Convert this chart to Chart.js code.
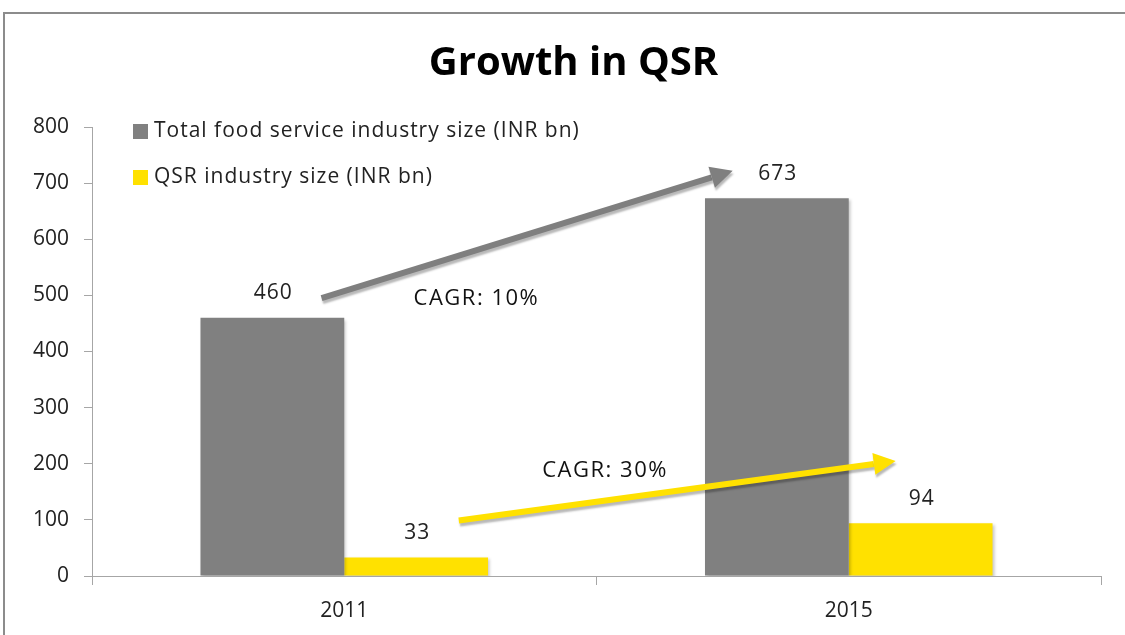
<!DOCTYPE html>
<html>
<head>
<meta charset="utf-8">
<script src="https://cdn.jsdelivr.net/npm/chart.js@4.4.1/dist/chart.umd.min.js"></script>
<style>
  html, body { margin: 0; padding: 0; background: #fff; }
  #wrap { position: relative; width: 1125px; height: 635px; overflow: hidden; }
  #frame { position: absolute; left: 3px; top: 12px; width: 1200px; height: 700px; border: 2px solid #8c8c8c; box-sizing: border-box; }
  #qsrChart { position: absolute; left: 0; top: 0; }
</style>
</head>
<body>
<div id="wrap">
  <div id="frame"></div>
  <canvas id="qsrChart" width="1125" height="635"></canvas>
</div>
<script>
var chartTitle = "Growth in QSR";
var years = ["2011", "2015"];
var totalFoodService = [460, 673];
var qsrIndustry = [33, 94];
var seriesNames = ["Total food service industry size (INR bn)", "QSR industry size (INR bn)"];
var seriesColors = ["#808080", "#ffe100"];

// CAGR arrows, given in (category index, value) terms
var cagrNotes = [
  { text: "CAGR: 10%", color: "#7f7f7f", from: [-0.045, 495], to: [0.77, 722], label: [0.262, 494] },
  { text: "CAGR: 30%", color: "#ffe100", from: [0.227, 99], to: [1.093, 205], label: [0.517, 188] }
];

var FONT = "'Open Sans', sans-serif";

// title, value labels, legend and arrows
var extras = {
  id: 'extras',
  beforeDatasetsDraw: function (chart) {
    var c = chart.ctx;
    c.save();
    c.shadowColor = 'rgba(0,0,0,0.22)';
    c.shadowOffsetX = 2;
    c.shadowOffsetY = 2;
    c.shadowBlur = 3;
  },
  afterDatasetsDraw: function (chart) {
    var c = chart.ctx;
    c.restore();
    var xs = chart.scales.x, ys = chart.scales.y, area = chart.chartArea;

    c.save();
    // title
    c.font = "bold 40px " + FONT;
    c.fillStyle = "#000";
    c.textAlign = "center";
    c.textBaseline = "middle";
    c.fillText(chartTitle, (chart.width + 22) / 2, 64);

    // value labels
    c.font = "21px " + FONT;
    c.letterSpacing = "1px";
    c.fillStyle = "#222";
    c.textBaseline = "bottom";
    chart.data.datasets.forEach(function (ds, i) {
      chart.getDatasetMeta(i).data.forEach(function (bar, j) {
        c.fillText(ds.data[j], bar.x + 1, bar.y - 14);
      });
    });

    // legend
    c.textAlign = "left";
    c.textBaseline = "middle";
    seriesNames.forEach(function (name, i) {
      var y = area.top + 4 + i * 46;
      c.fillStyle = seriesColors[i];
      c.fillRect(area.left + 41, y - 7, 15, 15);
      c.fillStyle = "#222";
      c.fillText(name, area.left + 62, y);
    });

    // arrows
    cagrNotes.forEach(function (n) {
      var x1 = xs.getPixelForValue(n.from[0]), y1 = ys.getPixelForValue(n.from[1]);
      var x2 = xs.getPixelForValue(n.to[0]), y2 = ys.getPixelForValue(n.to[1]);
      var ang = Math.atan2(y2 - y1, x2 - x1);
      var head = 22, half = 11;
      var bx = x2 - head * Math.cos(ang), by = y2 - head * Math.sin(ang);
      c.save();
      c.shadowColor = 'rgba(0,0,0,0.28)';
      c.shadowOffsetX = 1;
      c.shadowOffsetY = 3;
      c.shadowBlur = 2;
      c.strokeStyle = n.color;
      c.fillStyle = n.color;
      c.lineWidth = 6;
      c.beginPath();
      c.moveTo(x1, y1);
      c.lineTo(bx, by);
      c.stroke();
      c.beginPath();
      c.moveTo(x2, y2);
      c.lineTo(bx + half * Math.sin(ang), by - half * Math.cos(ang));
      c.lineTo(bx - half * Math.sin(ang), by + half * Math.cos(ang));
      c.closePath();
      c.fill();
      c.restore();

      c.fillStyle = "#111";
      c.textAlign = "center";
      c.font = "22px " + FONT;
      c.letterSpacing = "1.5px";
      c.fillText(n.text, xs.getPixelForValue(n.label[0]), ys.getPixelForValue(n.label[1]));
    });
    c.restore();
  }
};

var ctx = document.getElementById('qsrChart');
var myChart = new Chart(ctx, {
  type: 'bar',
  data: {
    labels: years,
    datasets: [{
      label: seriesNames[0],
      data: totalFoodService,
      backgroundColor: seriesColors[0]
    }, {
      label: seriesNames[1],
      data: qsrIndustry,
      backgroundColor: seriesColors[1]
    }]
  },
  plugins: [extras],
  options: {
    responsive: false,
    devicePixelRatio: 1,
    animation: false,
    categoryPercentage: 0.57,
    barPercentage: 1,
    layout: { padding: { left: 10, right: 24, top: 127, bottom: 2 } },
    plugins: {
      legend: { display: false },
      tooltip: { enabled: false },
      title: { display: false }
    },
    scales: {
      x: {
        grid: { offset: true, drawOnChartArea: false, tickLength: 9, color: "#a6a6a6" },
        border: { color: "#a6a6a6" },
        ticks: { color: "#222", font: { family: FONT, size: 21 }, padding: 13 },
        afterFit: function (scale) { scale.height = 57; }
      },
      y: {
        min: 0,
        max: 800,
        ticks: { stepSize: 100, color: "#222", font: { family: FONT, size: 21 }, padding: 15 },
        grid: { drawOnChartArea: false, tickLength: 8, color: "#a6a6a6" },
        border: { color: "#a6a6a6" },
        afterFit: function (scale) { scale.width = 82; }
      }
    }
  }
});
</script>
</body>
</html>
